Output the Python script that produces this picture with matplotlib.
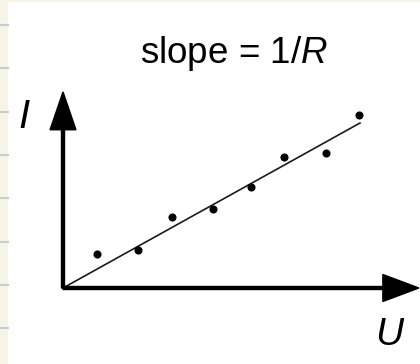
import matplotlib
matplotlib.use('Agg')
import matplotlib.pyplot as plt
from matplotlib.patches import Rectangle
from matplotlib.lines import Line2D

plt.rcParams['font.family'] = ['Liberation Sans', 'DejaVu Sans']
plt.rcParams['mathtext.fontset'] = 'custom'
plt.rcParams['mathtext.rm'] = 'Liberation Sans'
plt.rcParams['mathtext.it'] = 'Liberation Sans:italic'

# measured voltage / current pairs
U = [0.9, 2.0, 2.9, 4.0, 5.0, 5.9, 7.0, 7.9]
I = [0.90, 1.01, 1.89, 2.10, 2.69, 3.49, 3.59, 4.61]
R = 1.8
u_fit = [0.0, 7.92]

W, H, DPI = 420, 364, 100
fig = plt.figure(figsize=(W / DPI, H / DPI), dpi=DPI)
fig.patch.set_facecolor('white')

# notebook margin strip on the left and top
cream = '#f6f4e7'
fig.patches.append(Rectangle((0, 0), 8 / W, 1, transform=fig.transFigure,
                             facecolor=cream, edgecolor='none', zorder=0))
fig.patches.append(Rectangle((0, 1 - 2 / H), 1, 2 / H, transform=fig.transFigure,
                             facecolor=cream, edgecolor='none', zorder=0))
for k in range(8):
    y = 1 - (25 + 43.33 * k) / H
    fig.lines.append(Line2D([0, 8 / W], [y, y], transform=fig.transFigure,
                            color='#cbcbcb', lw=1.5))

ax = fig.add_axes([0, 0, 1, 1])
ax.set_facecolor('none')
px = 37.5  # pixels per unit
ax.set_xlim(-63 / px, (W - 63) / px)
ax.set_ylim(-(H - 288) / px, 288 / px)
ax.axis('off')

# axes with arrow heads
ax.arrow(0, 0, 9.49, 0, width=0.08, head_width=0.72, head_length=0.96,
         length_includes_head=True, color='black', zorder=3)
ax.arrow(0, 0, 0, 5.23, width=0.08, head_width=0.69, head_length=1.01,
         length_includes_head=True, color='black', zorder=3)

# best fit line through the origin
ax.plot(u_fit, [u / R for u in u_fit], color='#1a1a1a', lw=1.2, zorder=2)
ax.scatter(U, I, s=34, color='black', zorder=4, linewidths=0)

ax.text(2.06, 6.0, 'slope = 1/$\\mathit{R}$', fontsize=26.5, ha='left', va='baseline')
ax.text(8.69, -1.52, 'U', fontsize=28, style='italic', ha='center', va='baseline')
ax.text(-1.04, 4.27, 'I', fontsize=29, style='italic', ha='center', va='baseline')

fig.savefig('out.png', dpi=DPI)
